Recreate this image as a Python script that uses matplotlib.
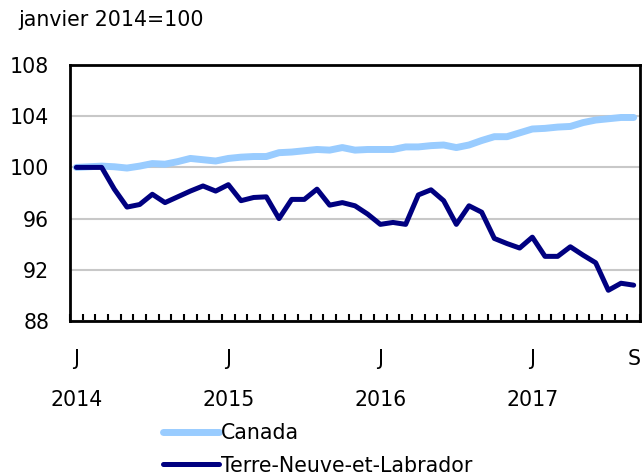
import matplotlib
matplotlib.use('Agg')
import matplotlib.pyplot as plt
import numpy as np

# monthly index, January 2014 to September 2017
canada = [100.0, 100.05, 100.1, 100.05, 99.95, 100.1, 100.3, 100.25, 100.45, 100.7,
          100.6, 100.5, 100.7, 100.8, 100.85, 100.85, 101.15, 101.2, 101.3, 101.4,
          101.35, 101.55, 101.35, 101.4, 101.4, 101.4, 101.6, 101.6, 101.7, 101.75,
          101.55, 101.75, 102.1, 102.4, 102.4, 102.7, 103.0, 103.05, 103.15, 103.2,
          103.5, 103.7, 103.8, 103.9, 103.9]
terre_neuve = [100.0, 100.0, 100.0, 98.3, 96.9, 97.1, 97.9, 97.25, 97.7, 98.15,
               98.55, 98.15, 98.65, 97.4, 97.65, 97.7, 96.0, 97.5, 97.5, 98.3,
               97.05, 97.25, 97.0, 96.35, 95.55, 95.7, 95.55, 97.85, 98.25, 97.4,
               95.55, 97.0, 96.5, 94.45, 94.05, 93.7, 94.55, 93.05, 93.05, 93.8,
               93.15, 92.55, 90.4, 90.95, 90.8]
month_ticks = [0, 12, 24, 36, 44]
month_labels = ['J', 'J', 'J', 'J', 'S']
year_pos = [0, 12, 24, 36]
year_labels = ['2014', '2015', '2016', '2017']
y_ticks = [88, 92, 96, 100, 104, 108]

plt.rcParams['font.family'] = ['DejaVu Sans']
fs = 14.8

fig = plt.figure(figsize=(6.42, 4.75), dpi=100)
ax = fig.add_axes([70/642, 1 - 321/475, 570/642, 256/475])

x = np.arange(len(canada))
l1, = ax.plot(x, canada, color='#99CCFF', lw=5, solid_capstyle='round', zorder=3)
l2, = ax.plot(x, terre_neuve, color='#000080', lw=3.6, solid_capstyle='round', zorder=4)

ax.set_xlim(-0.5, len(canada) - 0.5)
ax.set_ylim(88, 108)
ax.set_yticks(y_ticks)
ax.set_yticklabels([str(v) for v in y_ticks], fontsize=fs)
ax.yaxis.grid(True, color='#C8C8C8', lw=1.5)
ax.set_axisbelow(True)

ax.set_xticks(month_ticks)
ax.set_xticklabels(month_labels, fontsize=fs)
ax.set_xticks(np.arange(-0.5, len(canada), 1), minor=True)
ax.tick_params(axis='x', which='major', length=0, pad=20)
ax.tick_params(axis='x', which='minor', direction='in', length=5, width=1.5, bottom=True)
ax.tick_params(axis='y', length=0, pad=15)

for s in ax.spines.values():
    s.set_linewidth(2)
    s.set_color('black')

for p, lab in zip(year_pos, year_labels):
    ax.annotate(lab, xy=(p, 0), xycoords=('data', 'axes fraction'),
                xytext=(0, -57), textcoords='offset points',
                ha='center', va='center', fontsize=fs)

fig.text(18/642, 1 - 20/475, 'janvier 2014=100', fontsize=fs, va='center', ha='left')

fig.legend([l1, l2], ['Canada', 'Terre-Neuve-et-Labrador'], loc='upper left',
           bbox_to_anchor=(153/642, 1 - 413/475), frameon=False, fontsize=fs,
           handlelength=2.7, handletextpad=0.1, labelspacing=0.6, borderpad=0)

plt.savefig('out.png', dpi=100)
